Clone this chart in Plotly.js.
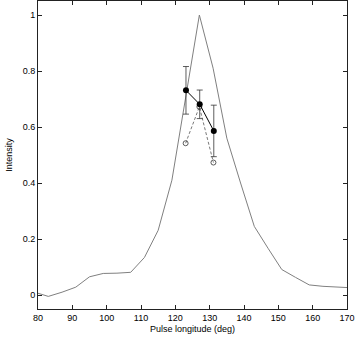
<!DOCTYPE html>
<html>
<head>
<meta charset="utf-8">
<script src="https://cdn.plot.ly/plotly-3.0.1.min.js"></script>
<style>
  html, body { margin: 0; padding: 0; background: #fff; }
  #chart { width: 355px; height: 339px; }
</style>
</head>
<body>
<div id="chart"></div>
<script>
// pulse profile (gray curve)
const profileLon = [79, 83, 87, 91, 95, 99, 103, 107, 111, 115, 119, 123, 127, 131, 135, 139, 143, 147, 151, 155, 159, 163, 167, 171];
const profileInt = [0.01, -0.005, 0.01, 0.028, 0.065, 0.077, 0.078, 0.081, 0.134, 0.231, 0.41, 0.705, 1.0, 0.81, 0.56, 0.40, 0.245, 0.167, 0.091, 0.063, 0.036, 0.031, 0.028, 0.026];

// measured points with errors (filled)
const measLon = [123.1, 127.1, 131.2];
const measInt = [0.731, 0.681, 0.586];
const measErr = [0.085, 0.051, 0.092];

// model points (open, dashed)
const modelLon = [123.0, 127.0, 131.1];
const modelInt = [0.542, 0.672, 0.473];

const traces = [
    {
        x: profileLon, y: profileInt,
        type: 'scatter', mode: 'lines',
        line: { color: '#808080', width: 1 },
        hoverinfo: 'skip'
    },
    {
        x: modelLon, y: modelInt,
        type: 'scatter', mode: 'lines+markers',
        line: { color: '#555', width: 0.8, dash: '3px,2px' },
        marker: { symbol: 'circle-open', size: 5, color: '#333', line: { width: 0.8 } }
    },
    {
        x: measLon, y: measInt,
        type: 'scatter', mode: 'lines+markers',
        line: { color: '#000', width: 1 },
        marker: { symbol: 'circle', size: 6, color: '#000' },
        error_y: { type: 'data', array: measErr, visible: true, color: '#333', thickness: 0.8, width: 3 }
    }
];

const axisCommon = {
    showline: true, mirror: 'ticks', linecolor: '#222', linewidth: 1,
    ticks: 'inside', ticklen: 4, tickcolor: '#222',
    showgrid: false, zeroline: false,
    tickfont: { family: 'Liberation Sans, Arial, sans-serif', size: 9, color: '#000' }
};

const layout = {
    width: 355, height: 339,
    margin: { l: 38, r: 8, t: 1, b: 30 },
    paper_bgcolor: '#fff', plot_bgcolor: '#fff',
    showlegend: false,
    xaxis: Object.assign({}, axisCommon, {
        range: [80, 170], dtick: 10, tick0: 80,
        title: { text: 'Pulse longitude (deg)', standoff: 3,
                 font: { family: 'Liberation Sans, Arial, sans-serif', size: 9, color: '#000' } }
    }),
    yaxis: Object.assign({}, axisCommon, {
        range: [-0.05, 1.05], dtick: 0.2, tick0: 0,
        title: { text: 'Intensity', standoff: 8,
                 font: { family: 'Liberation Sans, Arial, sans-serif', size: 9, color: '#000' } }
    })
};

Plotly.newPlot('chart', traces, layout, { displayModeBar: false, staticPlot: true });
</script>
</body>
</html>
